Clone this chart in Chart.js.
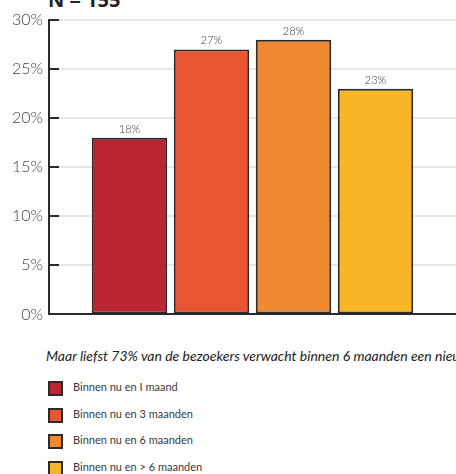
<!DOCTYPE html>
<html><head><meta charset="utf-8">
<script src="https://cdn.jsdelivr.net/npm/chart.js@4"></script>
<style>
html,body{margin:0;padding:0;background:#fff;width:456px;height:474px;overflow:hidden;position:relative;font-family:Lato,"Open Sans",sans-serif;}
#wrap{position:absolute;left:0;top:0;width:456px;height:330px;}
#title{position:absolute;left:48px;top:-14px;font:bold 20px "Open Sans",sans-serif;color:#222;}
#caption{position:absolute;left:46px;top:347px;white-space:nowrap;font:italic 14px Lato,sans-serif;color:#222;}
#legend{position:absolute;left:48px;top:380px;}
.li{height:26.5px;display:flex;align-items:flex-start;font:400 11px Lato,sans-serif;color:#3a3a3a;}
.sw{width:11px;height:11px;border:2px solid #2a2a2a;margin-right:10px;margin-top:1px;}
</style></head><body>
<div id="title"></div>
<div id="wrap"><canvas id="c"></canvas></div>
<div id="caption">Maar liefst 73% van de bezoekers verwacht binnen 6 maanden een nieuwe auto te kopen</div>
<div id="legend"></div>
<script>
const titleText = "N = 155";
const categories = [""];
const seriesNames = ["Binnen nu en 1 maand","Binnen nu en 3 maanden","Binnen nu en 6 maanden","Binnen nu en > 6 maanden"];
const seriesValues = [18, 27, 28, 23];
const seriesColors = ["#b92530","#e85532","#ef8a33","#f8b626"];
const yTicks = [0,5,10,15,20,25,30];

document.getElementById('title').textContent = titleText;
const lg = document.getElementById('legend');
seriesNames.forEach((n,i)=>{
  const d=document.createElement('div');d.className='li';
  const s=document.createElement('div');s.className='sw';s.style.background=seriesColors[i];
  const t=document.createElement('span');t.textContent=n.replace('1 maand','I maand');
  d.appendChild(s);d.appendChild(t);lg.appendChild(d);
});

const insideTicks = {
  id:'insideTicks',
  afterDatasetsDraw(chart){
    const {ctx, chartArea, scales:{y}} = chart;
    ctx.save();
    ctx.strokeStyle='#2a2a2a';ctx.lineWidth=2;
    yTicks.forEach(v=>{
      const py=Math.round(y.getPixelForValue(v));
      ctx.beginPath();ctx.moveTo(chartArea.left,py);ctx.lineTo(chartArea.left+10,py);ctx.stroke();
    });
    ctx.restore();
  }
};
const valueLabels = {
  id:'valueLabels',
  afterDatasetsDraw(chart){
    const ctx=chart.ctx;
    ctx.save();
    ctx.font='300 11px Lato, sans-serif';ctx.fillStyle='#333';
    ctx.textAlign='center';ctx.textBaseline='bottom';
    chart.data.datasets.forEach((ds,i)=>{
      const el=chart.getDatasetMeta(i).data[0];
      ctx.fillText(ds.data[0]+'%', el.x, el.y-3);
    });
    ctx.restore();
  }
};

new Chart(document.getElementById('c'),{
  type:'bar',
  data:{
    labels:categories,
    datasets:seriesNames.map((n,i)=>({
      label:n,data:[seriesValues[i]],backgroundColor:seriesColors[i],
      borderColor:'#2a2a2a',borderWidth:2,borderSkipped:false,
      barPercentage:0.92,categoryPercentage:0.806
    }))
  },
  options:{
    responsive:true,maintainAspectRatio:false,animation:false,
    layout:{padding:{top:20,left:0,right:0,bottom:0}},
    plugins:{legend:{display:false},tooltip:{enabled:false},title:{display:false}},
    scales:{
      x:{grid:{display:false},ticks:{display:false},border:{display:true,color:'#2a2a2a',width:2}},
      y:{min:0,max:30,
        afterBuildTicks(s){s.ticks=yTicks.map(v=>({value:v}));},
        afterFit(s){s.width=49;},
        grid:{color:'#e6e6e6',lineWidth:2,drawTicks:false},
        border:{display:true,color:'#2a2a2a',width:2},
        ticks:{padding:6,color:'#444',font:{family:'Lato',size:16,weight:'300'},callback:v=>v+'%'}
      }
    }
  },
  plugins:[insideTicks,valueLabels]
});
</script>
</body></html>
